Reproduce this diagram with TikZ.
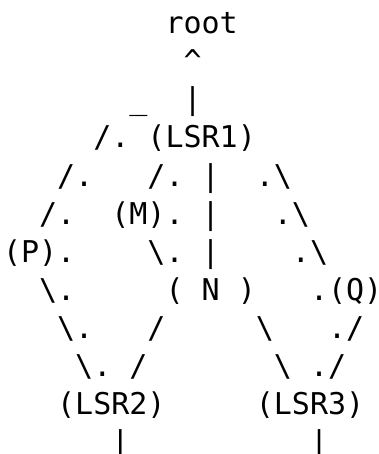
\documentclass[tikz,border=0pt]{standalone}
\usepackage{fontspec}
\newfontfamily\asciifont{DejaVu Sans Mono}
\newcommand{\bs}{\textbackslash}
\tikzset{
  glyph/.style={anchor=base west, inner sep=0pt, outer sep=0pt, font=\asciifont\fontsize{30}{38}\selectfont, text=black}
}
\newcommand{\cx}[1]{3pt+#1*18.06pt}
\newcommand{\ry}[1]{-34pt-#1*38pt}
\begin{document}
\begin{tikzpicture}
\fill[white] (0,0) rectangle (379pt,-454pt);
\useasboundingbox (0,0) rectangle (379pt,-454pt);
% row 0
\node[glyph] (root) at ({\cx{9}},{\ry{0}}) {root};
% row 1
\node[glyph] (caret) at ({\cx{10}},{\ry{1}}) {\textasciicircum};
% row 2
\node[glyph] (under) at ({\cx{7}},{\ry{2}}) {\_};
\node[glyph] (up) at ({\cx{10}},{\ry{2}}) {|};
% row 3
\node[glyph] (r3a) at ({\cx{5}},{\ry{3}}) {/.};
\node[glyph] (lsr1) at ({\cx{8}},{\ry{3}}) {(LSR1)};
% row 4
\node[glyph] (r4a) at ({\cx{3}},{\ry{4}}) {/.};
\node[glyph] (r4b) at ({\cx{8}},{\ry{4}}) {/.};
\node[glyph] (r4c) at ({\cx{11}},{\ry{4}}) {|};
\node[glyph] (r4d) at ({\cx{14}},{\ry{4}}) {.\bs};
% row 5
\node[glyph] (r5a) at ({\cx{2}},{\ry{5}}) {/.};
\node[glyph] (m) at ({\cx{6}},{\ry{5}}) {(M).};
\node[glyph] (r5c) at ({\cx{11}},{\ry{5}}) {|};
\node[glyph] (r5d) at ({\cx{15}},{\ry{5}}) {.\bs};
% row 6
\node[glyph] (p) at ({\cx{0}},{\ry{6}}) {(P).};
\node[glyph] (r6b) at ({\cx{8}},{\ry{6}}) {\bs.};
\node[glyph] (r6c) at ({\cx{11}},{\ry{6}}) {|};
\node[glyph] (r6d) at ({\cx{16}},{\ry{6}}) {.\bs};
% row 7
\node[glyph] (r7a) at ({\cx{2}},{\ry{7}}) {\bs.};
\node[glyph] (n) at ({\cx{9}},{\ry{7}}) {(\ N\ )};
\node[glyph] (q) at ({\cx{17}},{\ry{7}}) {.(Q)};
% row 8
\node[glyph] (r8a) at ({\cx{3}},{\ry{8}}) {\bs.};
\node[glyph] (r8b) at ({\cx{8}},{\ry{8}}) {/};
\node[glyph] (r8c) at ({\cx{14}},{\ry{8}}) {\bs};
\node[glyph] (r8d) at ({\cx{18}},{\ry{8}}) {./};
% row 9
\node[glyph] (r9a) at ({\cx{4}},{\ry{9}}) {\bs.};
\node[glyph] (r9b) at ({\cx{7}},{\ry{9}}) {/};
\node[glyph] (r9c) at ({\cx{15}},{\ry{9}}) {\bs};
\node[glyph] (r9d) at ({\cx{17}},{\ry{9}}) {./};
% row 10
\node[glyph] (lsr2) at ({\cx{3}},{\ry{10}}) {(LSR2)};
\node[glyph] (lsr3) at ({\cx{14}},{\ry{10}}) {(LSR3)};
% row 11
\node[glyph] (d2) at ({\cx{6}},{\ry{11}}) {|};
\node[glyph] (d3) at ({\cx{17}},{\ry{11}}) {|};
\end{tikzpicture}
\end{document}
